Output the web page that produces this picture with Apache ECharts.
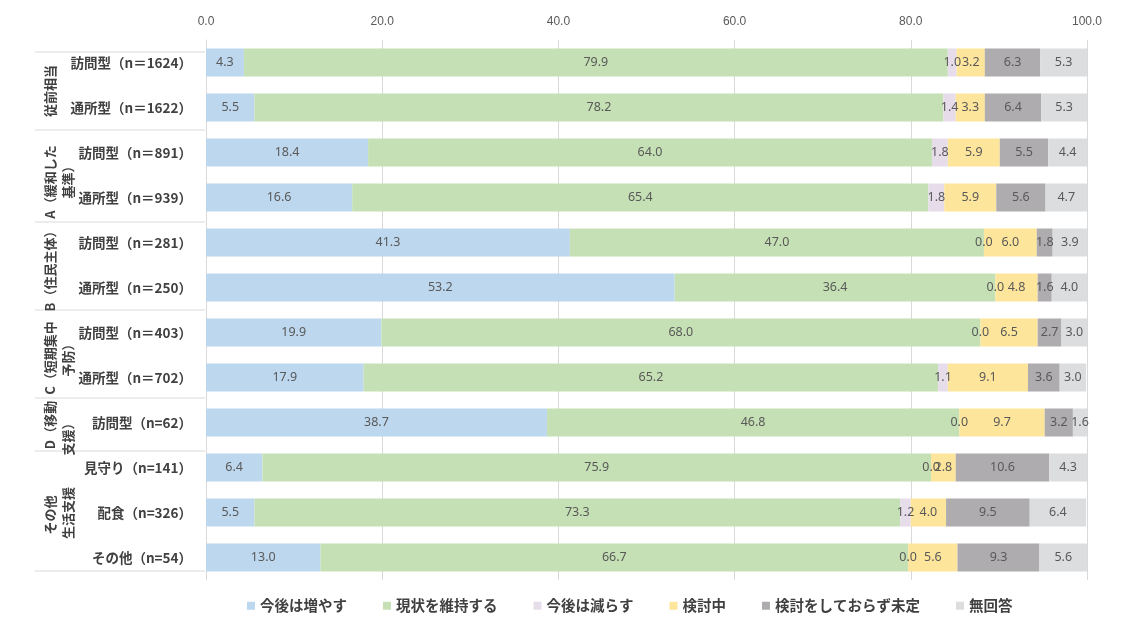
<!DOCTYPE html>
<html><head><meta charset="utf-8">
<script src="https://cdn.jsdelivr.net/npm/echarts@6/dist/echarts.min.js"></script>
<style>html,body{margin:0;padding:0;background:#fff}#c{width:1137px;height:630px}</style>
</head><body><div id="c"></div>
<script>
const categories = ['訪問型（n＝1624）','通所型（n＝1622）','訪問型（n＝891）','通所型（n＝939）','訪問型（n＝281）','通所型（n＝250）','訪問型（n＝403）','通所型（n＝702）','訪問型（n=62）','見守り（n=141）','配食（n=326）','その他（n=54）'];
const seriesNames = ['今後は増やす','現状を維持する','今後は減らす','検討中','検討をしておらず未定','無回答'];
const increase = [4.3, 5.5, 18.4, 16.6, 41.3, 53.2, 19.9, 17.9, 38.7, 6.4, 5.5, 13.0];
const maintain = [79.9, 78.2, 64.0, 65.4, 47.0, 36.4, 68.0, 65.2, 46.8, 75.9, 73.3, 66.7];
const decrease = [1.0, 1.4, 1.8, 1.8, 0.0, 0.0, 0.0, 1.1, 0.0, 0.0, 1.2, 0.0];
const considering = [3.2, 3.3, 5.9, 5.9, 6.0, 4.8, 6.5, 9.1, 9.7, 2.8, 4.0, 5.6];
const undecided = [6.3, 6.4, 5.5, 5.6, 1.8, 1.6, 2.7, 3.6, 3.2, 10.6, 9.5, 9.3];
const noAnswer = [5.3, 5.3, 4.4, 4.7, 3.9, 4.0, 3.0, 3.0, 1.6, 4.3, 6.4, 5.6];
const xTicks = [0, 20, 40, 60, 80, 100];
const groupLabels = [
  {lines:['従前相当'], ys:[91]},
  {lines:['A（緩和した','基準）'], ys:[182,179]},
  {lines:['B（住民主体）'], ys:[268]},
  {lines:['C（短期集中','予防）'], ys:[358,357]},
  {lines:['D（移動','支援）'], ys:[425,436]},
  {lines:['その他','生活支援'], ys:[515,513]}
];
const sepYs = [52, 130, 222, 310, 398, 451, 571];

const colors = ['#bdd7ee','#c5e0b4','#e6dcea','#fde59b','#aeacae','#dcdddf'];
const allData = [increase, maintain, decrease, considering, undecided, noAnswer];
const fontCJK = '"Noto Sans CJK JP", "Noto Sans", sans-serif';

const chart = echarts.init(document.getElementById('c'), null, {renderer:'canvas'});
const graphics = [];
sepYs.forEach(y => graphics.push({type:'line', shape:{x1:35,y1:y,x2:205,y2:y}, style:{stroke:'#d9d9d9', lineWidth:1}, silent:true}));
groupLabels.forEach(g => {
  g.lines.forEach((t,i) => {
    graphics.push({type:'text', x: 50 + i*18, y: g.ys[i], rotation: Math.PI/2,
      style:{text:t, font:'bold 13px ' + fontCJK, fill:'#404040', align:'center', verticalAlign:'middle'}, silent:true});
  });
});

chart.setOption({
  animation:false,
  textStyle:{fontFamily: fontCJK},
  grid:{left:206, right:50, top:40, bottom:50, containLabel:false},
  legend:{bottom:12, left:242, icon:'rect', itemWidth:8, itemHeight:8, itemGap:36,
    textStyle:{fontSize:14.5, fontWeight:'bold', color:'#404040', fontFamily: fontCJK},
    data: seriesNames},
  xAxis:{type:'value', position:'top', min:0, max:100, interval:20,
    axisLine:{show:false}, axisTick:{show:false},
    axisLabel:{margin:12, color:'#595959', fontSize:12, fontFamily:'"Liberation Sans Narrow", "Liberation Sans", sans-serif', formatter:v=>v.toFixed(1)},
    splitLine:{show:true, lineStyle:{color:'#d9d9d9', width:1}}},
  yAxis:{type:'category', inverse:true, data:categories,
    axisLine:{show:true, lineStyle:{color:'#d9d9d9'}}, axisTick:{show:false},
    axisLabel:{margin:14, color:'#404040', fontSize:13.5, fontWeight:'bold', fontFamily: fontCJK}},
  series: seriesNames.map((n,i)=>({
    name:n, type:'bar', stack:'total', barWidth:28,
    itemStyle:{color:colors[i]},
    label:{show:true, position:'inside', color:'#595959', fontSize:12.5,
      fontFamily:'"Liberation Sans Narrow", "Noto Sans", sans-serif',
      formatter:p=>Number(p.value).toFixed(1)},
    data: allData[i]
  })),
  graphic: graphics
});
</script></body></html>
